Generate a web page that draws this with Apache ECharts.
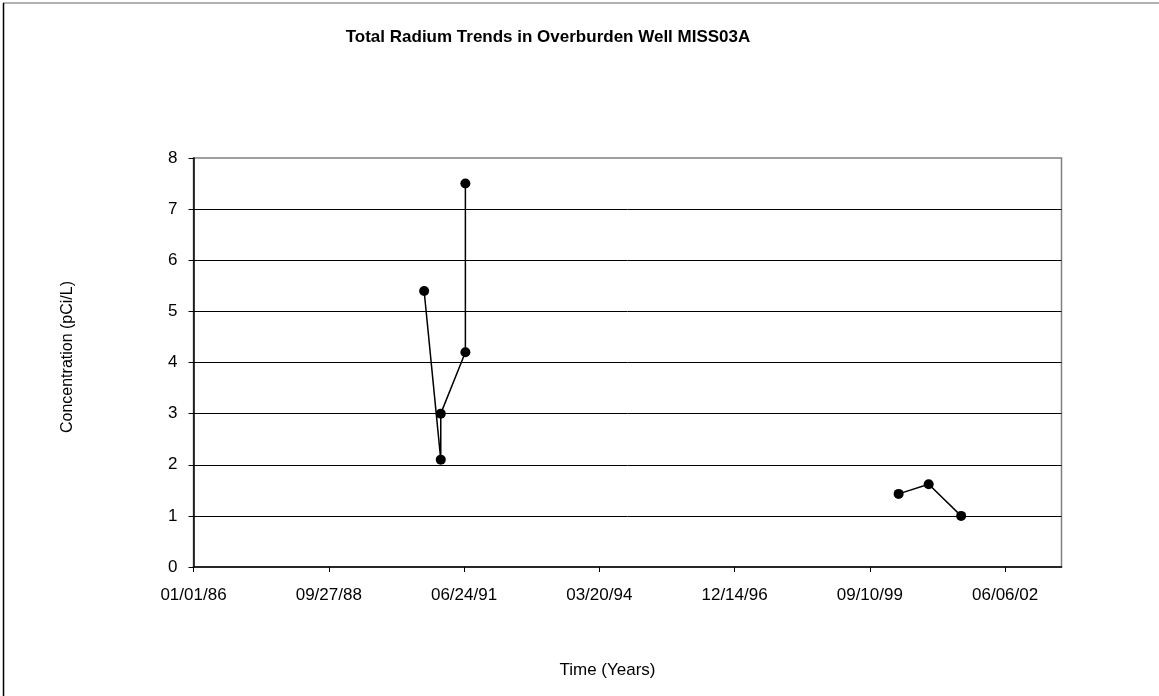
<!DOCTYPE html>
<html>
<head>
<meta charset="utf-8">
<script src="https://cdn.jsdelivr.net/npm/echarts@6/dist/echarts.min.js"></script>
<style>
html,body{margin:0;padding:0;background:#fff;}
#chart{width:1159px;height:696px;}
</style>
</head>
<body>
<div id="chart"></div>
<script>
// ---- data ----
const titleText = 'Total Radium Trends in Overburden Well MISS03A';
const xAxisTitle = 'Time (Years)';
const yAxisTitle = 'Concentration (pCi/L)';
const baseDate = '1986-01-01';
const tickDates = ['1986-01-01','1988-09-27','1991-06-24','1994-03-20','1996-12-14','1999-09-10','2002-06-06'];
const axisMaxDate = '2003-07-28';
const datesA = ['1990-09-02','1991-01-03','1991-01-03','1991-07-04','1991-07-04'];
const valuesA = [5.4, 2.1, 3.0, 4.2, 7.5];
const datesB = ['2000-04-10','2000-11-18','2001-07-16'];
const valuesB = [1.43, 1.62, 1.0];
const yTicks = [0,1,2,3,4,5,6,7,8];

// ---- helpers ----
function toDays(s){
  const p = s.split('-').map(Number);
  const b = baseDate.split('-').map(Number);
  return Math.round((Date.UTC(p[0],p[1]-1,p[2]) - Date.UTC(b[0],b[1]-1,b[2]))/86400000);
}
function fmt(days){
  const b = baseDate.split('-').map(Number);
  const d = new Date(Date.UTC(b[0],b[1]-1,b[2]) + days*86400000);
  const mm = String(d.getUTCMonth()+1).padStart(2,'0');
  const dd = String(d.getUTCDate()).padStart(2,'0');
  const yy = String(d.getUTCFullYear()%100).padStart(2,'0');
  return mm+'/'+dd+'/'+yy;
}
const tickVals = tickDates.map(toDays);
const pairs = (ds, vs) => ds.map((d,i)=>[toDays(d), vs[i]]);

const FONT = 'Liberation Sans, Arial, sans-serif';
const chart = echarts.init(document.getElementById('chart'), null, {renderer:'canvas'});
const seriesStyle = {
  type:'line',
  symbol:'circle',
  symbolSize:10,
  itemStyle:{color:'#000'},
  lineStyle:{color:'#000', width:1.5},
  animation:false
};
chart.setOption({
  backgroundColor:'#fff',
  animation:false,
  grid:{left:193.5, right:97.5, top:158, bottom:129, show:true, borderColor:'#808080', borderWidth:1.5, backgroundColor:'transparent'},
  xAxis:{
    type:'value',
    min:0,
    max:toDays(axisMaxDate),
    interval:1000,
    axisLine:{show:true, lineStyle:{color:'#000', width:1.5}},
    axisTick:{show:true, length:5, customValues:tickVals, lineStyle:{color:'#000', width:1}},
    axisLabel:{customValues:tickVals, formatter:v=>fmt(v), color:'#000', fontFamily:FONT, fontSize:17, margin:20},
    splitLine:{show:false}
  },
  yAxis:{
    type:'value',
    min:yTicks[0],
    max:yTicks[yTicks.length-1],
    interval:1,
    axisLine:{show:true, lineStyle:{color:'#000', width:1.5}},
    axisTick:{show:true, length:5, lineStyle:{color:'#000', width:1}},
    axisLabel:{color:'#000', fontFamily:FONT, fontSize:17, margin:16},
    splitLine:{show:true, showMaxLine:false, showMinLine:false, lineStyle:{color:'#000', width:1}}
  },
  series:[
    Object.assign({data:pairs(datesA, valuesA)}, seriesStyle),
    Object.assign({data:pairs(datesB, valuesB)}, seriesStyle)
  ],
  graphic:[
    {type:'line', shape:{x1:3, y1:3, x2:1160, y2:3}, style:{stroke:'#999', lineWidth:1.5}},
    {type:'line', shape:{x1:3.5, y1:3, x2:3.5, y2:700}, style:{stroke:'#000', lineWidth:1.5}},
    {type:'text', x:548, y:37, style:{text:titleText, font:'bold 17px '+FONT, fill:'#000', align:'center', verticalAlign:'middle'}},
    {type:'text', x:607.5, y:670, style:{text:xAxisTitle, font:'17px '+FONT, fill:'#000', align:'center', verticalAlign:'middle'}},
    {type:'text', x:68, y:357, rotation:Math.PI/2, style:{text:yAxisTitle, font:'16px '+FONT, fill:'#000', align:'center', verticalAlign:'middle'}}
  ]
});
</script>
</body>
</html>
